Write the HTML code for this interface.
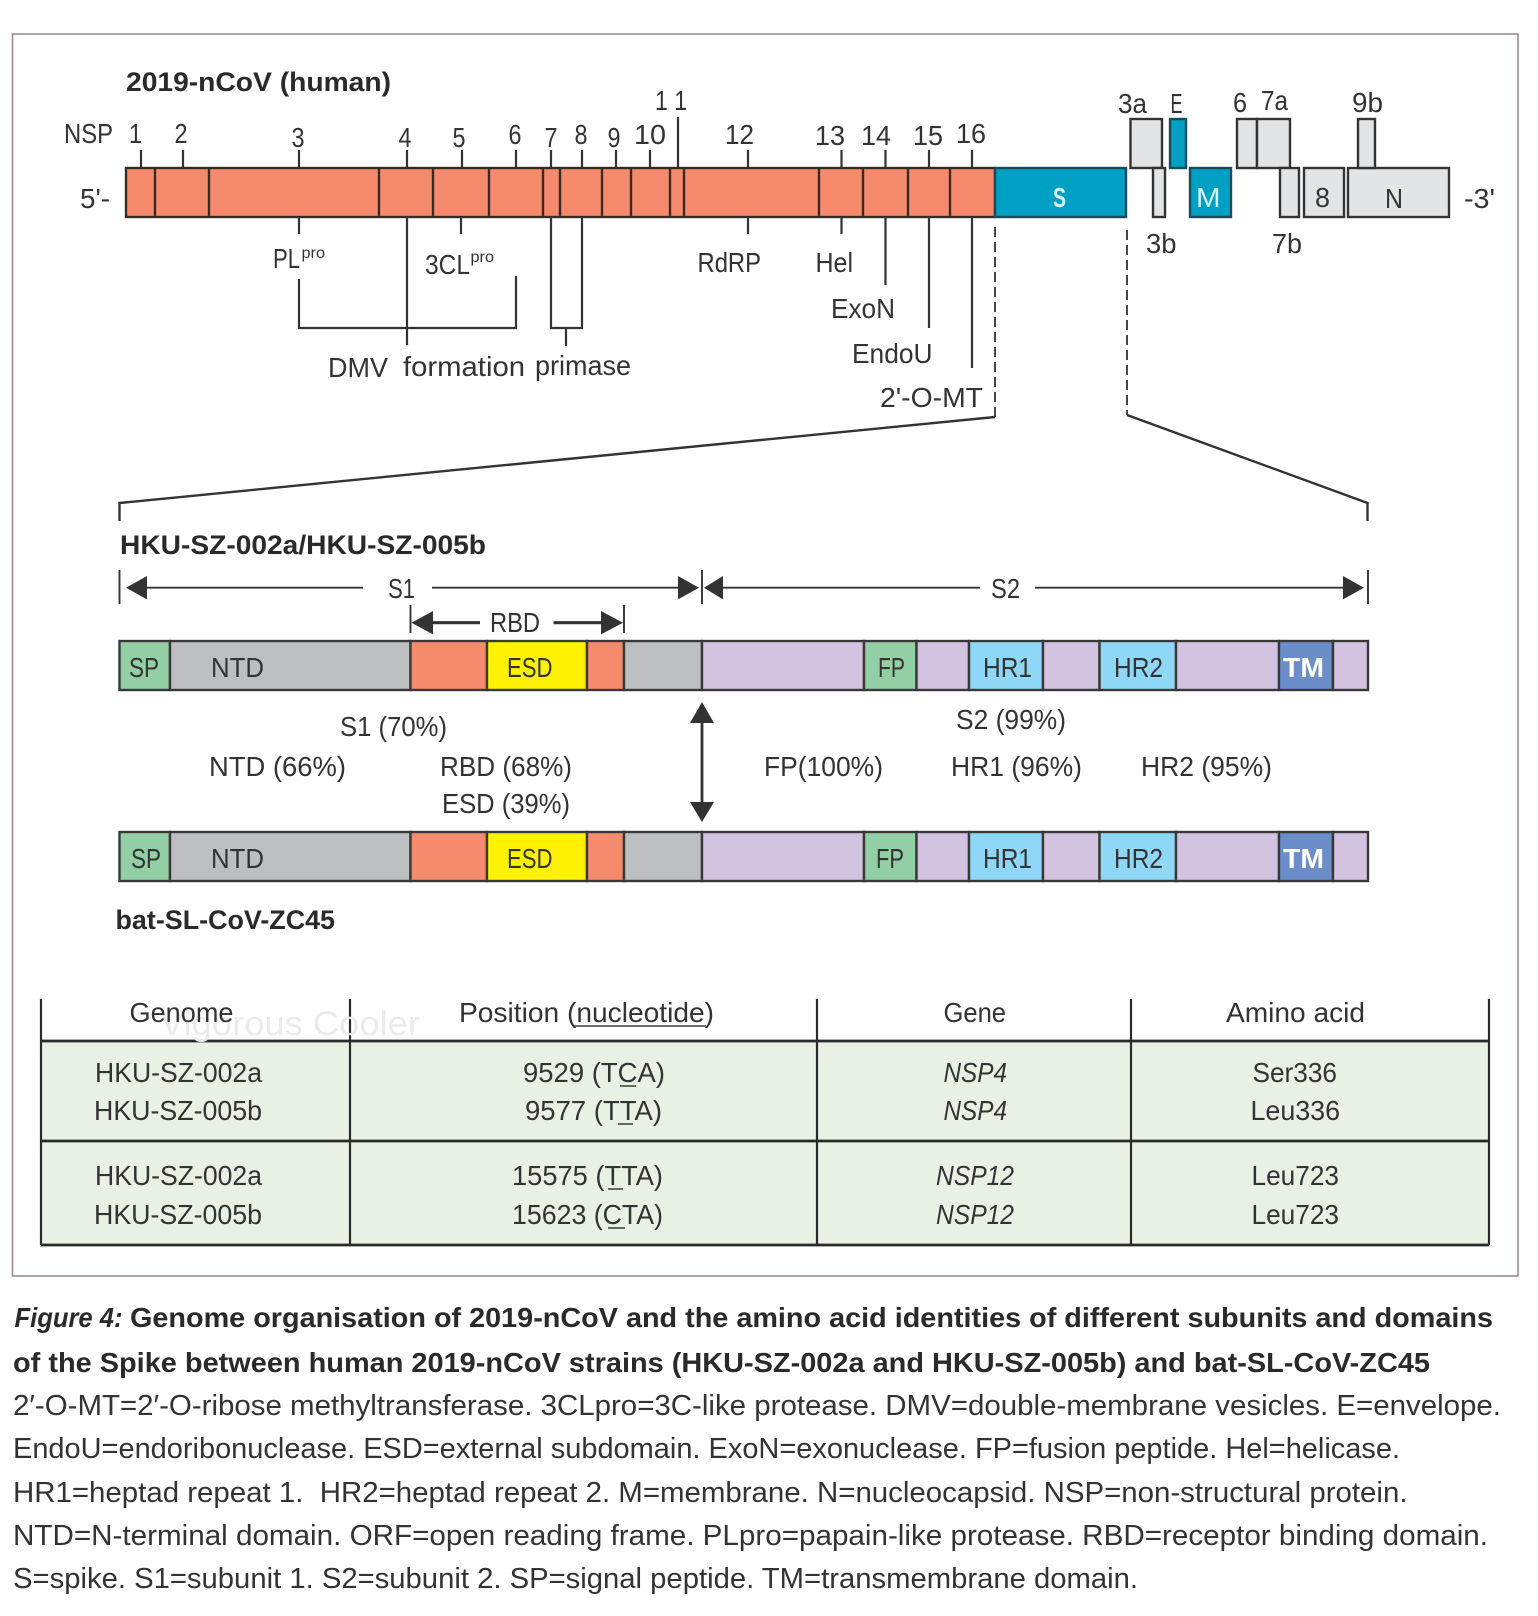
<!DOCTYPE html>
<html><head><meta charset="utf-8"><title>Figure 4</title>
<style>
html,body{margin:0;padding:0;background:#fff}
svg{display:block;filter:blur(0.35px)}
text{font-family:"Liberation Sans",sans-serif;fill:#333;font-size:28px}
.b{font-weight:bold;fill:#2a2a2a;font-size:27px}
.w{fill:#fff;font-weight:bold}
.i{font-style:italic}
.c{font-size:29px}
.c.b{font-size:28px}
.s{stroke:#3a2a26;stroke-width:2.4}
.g{fill:#e3e4e5;stroke:#333;stroke-width:2.4}
.t{fill:#00a0c4;stroke:#1c4a57;stroke-width:2.4}
</style></head><body>
<svg xmlns="http://www.w3.org/2000/svg" width="1538" height="1616" viewBox="0 0 1538 1616">
<rect width="1538" height="1616" fill="#fff"/>
<rect x="12.5" y="34" width="1505.5" height="1242" fill="none" stroke="#a08a92" stroke-width="1.6"/>

<!-- genome bar -->
<rect x="126" y="168" width="869" height="49" fill="#f58b6c" stroke="#3a2a26" stroke-width="2.4"/>
<g class="s">
<line x1="155" y1="168" x2="155" y2="217"/><line x1="209" y1="168" x2="209" y2="217"/><line x1="379" y1="168" x2="379" y2="217"/><line x1="433" y1="168" x2="433" y2="217"/><line x1="489" y1="168" x2="489" y2="217"/><line x1="543" y1="168" x2="543" y2="217"/><line x1="560" y1="168" x2="560" y2="217"/><line x1="602" y1="168" x2="602" y2="217"/><line x1="631" y1="168" x2="631" y2="217"/><line x1="670" y1="168" x2="670" y2="217"/><line x1="684" y1="168" x2="684" y2="217"/><line x1="819" y1="168" x2="819" y2="217"/><line x1="863" y1="168" x2="863" y2="217"/><line x1="908" y1="168" x2="908" y2="217"/><line x1="950" y1="168" x2="950" y2="217"/>
</g>
<rect x="995" y="168" width="131" height="49" class="t"/>
<rect x="1130.5" y="119" width="31.5" height="49" class="g"/>
<rect x="1170" y="119" width="16" height="49" class="t"/>
<rect x="1153" y="168" width="12" height="49" class="g"/>
<rect x="1190" y="168" width="41" height="49" class="t"/>
<rect x="1237" y="119" width="20" height="49" class="g"/>
<rect x="1257" y="119" width="33" height="49" class="g"/>
<rect x="1280" y="168" width="19" height="49" class="g"/>
<rect x="1304" y="168" width="40" height="49" class="g"/>
<rect x="1348" y="168" width="101" height="49" class="g"/>
<rect x="1358" y="119" width="17" height="49" class="g"/>

<!-- ticks -->
<g stroke="#333" stroke-width="2.2" fill="none">
<path d="M141 150V168M183 150V168M299 150V168M407 150V168M462 150V168M516 150V168M551 150V168M582 150V168M616 150V168M650 150V168M678 117V168M748 150V168M841.5 150V168M885.5 150V168M929 150V168M972 150V168"/>
<path d="M299 217V234M461 217V234M748 217V234M841.5 217V234M885.5 217V285M929 217V328M972 217V368M407 217V345"/>
<path d="M299 279V328H516V276"/>
<path d="M551 217V328H582V217M566 328V346"/>
<path d="M995 227V417M1127 230V415" stroke-dasharray="10 5" stroke-width="1.8"/>
<path d="M119.5 521V503L995 417M1127 415L1367.5 503V521" stroke-width="2.4"/>
</g>

<!-- spike bars -->
<g stroke="#383838" stroke-width="2.4">
<rect x="119.5" y="641" width="50.5" height="49" fill="#93cfa5"/>
<rect x="170" y="641" width="240.5" height="49" fill="#bcbec0"/>
<rect x="410.5" y="641" width="76.5" height="49" fill="#f58b6c"/>
<rect x="487" y="641" width="100" height="49" fill="#fff200"/>
<rect x="587" y="641" width="37" height="49" fill="#f58b6c"/>
<rect x="624" y="641" width="78" height="49" fill="#bcbec0"/>
<rect x="702" y="641" width="162" height="49" fill="#d2c3e0"/>
<rect x="864" y="641" width="52.5" height="49" fill="#93cfa5"/>
<rect x="916.5" y="641" width="52.5" height="49" fill="#d2c3e0"/>
<rect x="969" y="641" width="74" height="49" fill="#8fd7f6"/>
<rect x="1043" y="641" width="56.5" height="49" fill="#d2c3e0"/>
<rect x="1099.5" y="641" width="76.5" height="49" fill="#8fd7f6"/>
<rect x="1176" y="641" width="103" height="49" fill="#d2c3e0"/>
<rect x="1279" y="641" width="54" height="49" fill="#6b8ecb"/>
<rect x="1333" y="641" width="35" height="49" fill="#d2c3e0"/>

<rect x="119.5" y="832" width="50.5" height="49" fill="#93cfa5"/>
<rect x="170" y="832" width="240.5" height="49" fill="#bcbec0"/>
<rect x="410.5" y="832" width="76.5" height="49" fill="#f58b6c"/>
<rect x="487" y="832" width="100" height="49" fill="#fff200"/>
<rect x="587" y="832" width="37" height="49" fill="#f58b6c"/>
<rect x="624" y="832" width="78" height="49" fill="#bcbec0"/>
<rect x="702" y="832" width="162" height="49" fill="#d2c3e0"/>
<rect x="864" y="832" width="52.5" height="49" fill="#93cfa5"/>
<rect x="916.5" y="832" width="52.5" height="49" fill="#d2c3e0"/>
<rect x="969" y="832" width="74" height="49" fill="#8fd7f6"/>
<rect x="1043" y="832" width="56.5" height="49" fill="#d2c3e0"/>
<rect x="1099.5" y="832" width="76.5" height="49" fill="#8fd7f6"/>
<rect x="1176" y="832" width="103" height="49" fill="#d2c3e0"/>
<rect x="1279" y="832" width="54" height="49" fill="#6b8ecb"/>
<rect x="1333" y="832" width="35" height="49" fill="#d2c3e0"/>
</g>

<!-- dimension arrows -->
<g stroke="#333" stroke-width="1.9" fill="none">
<path d="M119.5 570V604M702 570V604M1368 570V604M410.5 605V633M624 605V633"/>
<path d="M147 587.7H363M432 587.7H678M723 587.7H980M1035 587.7H1343"/>
<path d="M430 622.7H480M553.5 622.7H602" stroke-width="3.2"/>
<path d="M702 720V805" stroke-width="2.8"/>
</g>
<g fill="#333">
<polygon points="126,587.7 147,576 147,599.4"/>
<polygon points="699,587.7 678,576 678,599.4"/>
<polygon points="704,587.7 723,576 723,599.4"/>
<polygon points="1364,587.7 1343,576 1343,599.4"/>
<polygon points="411.5,622.7 433,611 433,634.4"/>
<polygon points="623,622.7 601,611 601,634.4"/>
<polygon points="702,702 690,723 714,723"/>
<polygon points="702,822 690,802 714,802"/>
</g>

<!-- table -->
<rect x="41" y="1041" width="1447" height="204" fill="#e9f1e4"/>
<g stroke="#2a2a2a" fill="none">
<path d="M41 999V1245M350 999V1245M817 999V1245M1131 999V1245M1489 999V1245" stroke-width="2.2"/>
<path d="M41 1041H1489M41 1141H1489M41 1245H1489" stroke-width="2.8"/>
</g>
<text x="160" y="1035" textLength="260" lengthAdjust="spacingAndGlyphs" style="fill:#ebebeb;font-size:34px">Vigorous Cooler</text>

<!-- top labels -->
<text class="b" x="126" y="91" textLength="265" lengthAdjust="spacingAndGlyphs">2019-nCoV (human)</text>
<text x="64" y="143" textLength="49" lengthAdjust="spacingAndGlyphs">NSP</text>
<text x="129" y="143" textLength="13" lengthAdjust="spacingAndGlyphs">1</text>
<text x="174.5" y="143" textLength="13" lengthAdjust="spacingAndGlyphs">2</text>
<text x="291.5" y="147" textLength="13" lengthAdjust="spacingAndGlyphs">3</text>
<text x="398.5" y="147" textLength="13" lengthAdjust="spacingAndGlyphs">4</text>
<text x="452.5" y="147" textLength="13" lengthAdjust="spacingAndGlyphs">5</text>
<text x="508.5" y="144" textLength="13" lengthAdjust="spacingAndGlyphs">6</text>
<text x="544.5" y="147" textLength="13" lengthAdjust="spacingAndGlyphs">7</text>
<text x="574.5" y="144" textLength="13" lengthAdjust="spacingAndGlyphs">8</text>
<text x="607.5" y="147" textLength="13" lengthAdjust="spacingAndGlyphs">9</text>
<text x="634" y="144" textLength="32" lengthAdjust="spacingAndGlyphs">10</text>
<text x="655" y="110" textLength="32" lengthAdjust="spacingAndGlyphs">1 1</text>
<text x="725" y="144" textLength="29" lengthAdjust="spacingAndGlyphs">12</text>
<text x="815" y="145" textLength="30" lengthAdjust="spacingAndGlyphs">13</text>
<text x="861" y="145" textLength="30" lengthAdjust="spacingAndGlyphs">14</text>
<text x="913" y="145" textLength="30" lengthAdjust="spacingAndGlyphs">15</text>
<text x="956" y="143" textLength="30" lengthAdjust="spacingAndGlyphs">16</text>
<text x="80" y="208" textLength="30" lengthAdjust="spacingAndGlyphs">5'-</text>
<text x="273" y="268" textLength="27" lengthAdjust="spacingAndGlyphs">PL</text>
<text x="301.5" y="258" textLength="23.5" lengthAdjust="spacingAndGlyphs" style="font-size:16px">pro</text>
<text x="425" y="274" textLength="45" lengthAdjust="spacingAndGlyphs">3CL</text>
<text x="470.5" y="262" textLength="23.5" lengthAdjust="spacingAndGlyphs" style="font-size:16px">pro</text>
<text x="328" y="377" textLength="60" lengthAdjust="spacingAndGlyphs">DMV</text>
<text x="403" y="376" textLength="122" lengthAdjust="spacingAndGlyphs">formation</text>
<text x="535" y="375" textLength="96" lengthAdjust="spacingAndGlyphs">primase</text>
<text x="697.5" y="272" textLength="63.5" lengthAdjust="spacingAndGlyphs">RdRP</text>
<text x="815.5" y="272" textLength="37.5" lengthAdjust="spacingAndGlyphs">Hel</text>
<text x="831" y="318" textLength="64" lengthAdjust="spacingAndGlyphs">ExoN</text>
<text x="852" y="363" textLength="80.5" lengthAdjust="spacingAndGlyphs">EndoU</text>
<text x="880" y="407" textLength="103" lengthAdjust="spacingAndGlyphs">2'-O-MT</text>
<text class="w" x="1053" y="207" textLength="13" lengthAdjust="spacingAndGlyphs" style="fill:#d8f5fb">S</text>
<text x="1196" y="207" textLength="24.5" lengthAdjust="spacingAndGlyphs" style="fill:#d8f5fb">M</text>
<text x="1118" y="113" textLength="29" lengthAdjust="spacingAndGlyphs">3a</text>
<text x="1170.5" y="113" textLength="12" lengthAdjust="spacingAndGlyphs">E</text>
<text x="1233" y="112" textLength="14" lengthAdjust="spacingAndGlyphs">6</text>
<text x="1261" y="110" textLength="27" lengthAdjust="spacingAndGlyphs">7a</text>
<text x="1352" y="112" textLength="31" lengthAdjust="spacingAndGlyphs">9b</text>
<text x="1315" y="207" textLength="15" lengthAdjust="spacingAndGlyphs">8</text>
<text x="1385" y="208" textLength="18" lengthAdjust="spacingAndGlyphs">N</text>
<text x="1464" y="208" textLength="31" lengthAdjust="spacingAndGlyphs">-3'</text>
<text x="1146" y="253" textLength="30.5" lengthAdjust="spacingAndGlyphs">3b</text>
<text x="1272" y="253" textLength="30" lengthAdjust="spacingAndGlyphs">7b</text>

<!-- spike labels -->
<text class="b" x="120" y="554" textLength="366" lengthAdjust="spacingAndGlyphs">HKU-SZ-002a/HKU-SZ-005b</text>
<text x="388" y="598" textLength="27" lengthAdjust="spacingAndGlyphs">S1</text>
<text x="991" y="598" textLength="29" lengthAdjust="spacingAndGlyphs">S2</text>
<text x="490" y="632" textLength="50" lengthAdjust="spacingAndGlyphs">RBD</text>
<text x="129" y="677" textLength="30" lengthAdjust="spacingAndGlyphs">SP</text>
<text x="211" y="677" textLength="53" lengthAdjust="spacingAndGlyphs">NTD</text>
<text x="507" y="677" textLength="45.5" lengthAdjust="spacingAndGlyphs">ESD</text>
<text x="878" y="677" textLength="27" lengthAdjust="spacingAndGlyphs">FP</text>
<text x="983" y="677" textLength="49" lengthAdjust="spacingAndGlyphs">HR1</text>
<text x="1114" y="677" textLength="49" lengthAdjust="spacingAndGlyphs">HR2</text>
<text class="w" x="1283" y="677" textLength="41" lengthAdjust="spacingAndGlyphs">TM</text>
<text x="340" y="736" textLength="107" lengthAdjust="spacingAndGlyphs">S1 (70%)</text>
<text x="956" y="729" textLength="110" lengthAdjust="spacingAndGlyphs">S2 (99%)</text>
<text x="209" y="776" textLength="137" lengthAdjust="spacingAndGlyphs">NTD (66%)</text>
<text x="440" y="776" textLength="132" lengthAdjust="spacingAndGlyphs">RBD (68%)</text>
<text x="764" y="776" textLength="119" lengthAdjust="spacingAndGlyphs">FP(100%)</text>
<text x="951" y="776" textLength="131" lengthAdjust="spacingAndGlyphs">HR1 (96%)</text>
<text x="1141" y="776" textLength="131" lengthAdjust="spacingAndGlyphs">HR2 (95%)</text>
<text x="442" y="813" textLength="128" lengthAdjust="spacingAndGlyphs">ESD (39%)</text>
<text x="131" y="868" textLength="30" lengthAdjust="spacingAndGlyphs">SP</text>
<text x="211" y="868" textLength="53" lengthAdjust="spacingAndGlyphs">NTD</text>
<text x="507" y="868" textLength="45.5" lengthAdjust="spacingAndGlyphs">ESD</text>
<text x="876" y="868" textLength="28" lengthAdjust="spacingAndGlyphs">FP</text>
<text x="983" y="868" textLength="49" lengthAdjust="spacingAndGlyphs">HR1</text>
<text x="1114" y="868" textLength="49" lengthAdjust="spacingAndGlyphs">HR2</text>
<text class="w" x="1283" y="868" textLength="41" lengthAdjust="spacingAndGlyphs">TM</text>
<text class="b" x="115.5" y="929" textLength="219.5" lengthAdjust="spacingAndGlyphs">bat-SL-CoV-ZC45</text>

<!-- table text -->
<text x="129.5" y="1022" textLength="104" lengthAdjust="spacingAndGlyphs">Genome</text>
<text x="459" y="1022" textLength="255" lengthAdjust="spacingAndGlyphs">Position (nucleotide)</text>
<line x1="574" y1="1026" x2="706" y2="1026" stroke="#3a3a3a" stroke-width="1.5"/>
<text x="943.5" y="1022" textLength="62.5" lengthAdjust="spacingAndGlyphs">Gene</text>
<text x="1226" y="1022" textLength="139" lengthAdjust="spacingAndGlyphs">Amino acid</text>

<text x="95" y="1082" textLength="167" lengthAdjust="spacingAndGlyphs">HKU-SZ-002a</text>
<text x="94" y="1120" textLength="168" lengthAdjust="spacingAndGlyphs">HKU-SZ-005b</text>
<text x="523" y="1082" textLength="142" lengthAdjust="spacingAndGlyphs">9529 (TCA)</text>
<text x="525" y="1120" textLength="137" lengthAdjust="spacingAndGlyphs">9577 (TTA)</text>
<text class="i" x="943.5" y="1082" textLength="63.5" lengthAdjust="spacingAndGlyphs">NSP4</text>
<text class="i" x="943.5" y="1120" textLength="63.5" lengthAdjust="spacingAndGlyphs">NSP4</text>
<text x="1252.5" y="1082" textLength="84.5" lengthAdjust="spacingAndGlyphs">Ser336</text>
<text x="1250.5" y="1120" textLength="89.5" lengthAdjust="spacingAndGlyphs">Leu336</text>
<text x="95" y="1185" textLength="167" lengthAdjust="spacingAndGlyphs">HKU-SZ-002a</text>
<text x="94" y="1224" textLength="168" lengthAdjust="spacingAndGlyphs">HKU-SZ-005b</text>
<text x="512" y="1185" textLength="151" lengthAdjust="spacingAndGlyphs">15575 (TTA)</text>
<text x="512" y="1224" textLength="151" lengthAdjust="spacingAndGlyphs">15623 (CTA)</text>
<text class="i" x="936" y="1185" textLength="78" lengthAdjust="spacingAndGlyphs">NSP12</text>
<text class="i" x="936" y="1224" textLength="78" lengthAdjust="spacingAndGlyphs">NSP12</text>
<text x="1251.5" y="1185" textLength="87.5" lengthAdjust="spacingAndGlyphs">Leu723</text>
<text x="1251.5" y="1224" textLength="87.5" lengthAdjust="spacingAndGlyphs">Leu723</text>
<g stroke="#3a3a3a" stroke-width="1.5">
<line x1="620" y1="1086" x2="636" y2="1086"/><line x1="618" y1="1124" x2="633" y2="1124"/><line x1="608" y1="1189" x2="623" y2="1189"/><line x1="608" y1="1228" x2="625" y2="1228"/>
</g>

<!-- caption -->
<text class="c b i" x="14.5" y="1327" textLength="108" lengthAdjust="spacingAndGlyphs">Figure 4:</text>
<text class="c b" x="130" y="1327" textLength="1363" lengthAdjust="spacingAndGlyphs">Genome organisation of 2019-nCoV and the amino acid identities of different subunits and domains</text>
<text class="c b" x="13" y="1372" textLength="1417" lengthAdjust="spacingAndGlyphs">of the Spike between human 2019-nCoV strains (HKU-SZ-002a and HKU-SZ-005b) and bat-SL-CoV-ZC45</text>
<text class="c" x="13" y="1415" textLength="1488" lengthAdjust="spacingAndGlyphs">2′-O-MT=2′-O-ribose methyltransferase. 3CLpro=3C-like protease. DMV=double-membrane vesicles. E=envelope.</text>
<text class="c" x="13" y="1458" textLength="1387" lengthAdjust="spacingAndGlyphs">EndoU=endoribonuclease. ESD=external subdomain. ExoN=exonuclease. FP=fusion peptide. Hel=helicase.</text>
<text class="c" x="13" y="1502" textLength="1394.5" lengthAdjust="spacingAndGlyphs" xml:space="preserve">HR1=heptad repeat 1.  HR2=heptad repeat 2. M=membrane. N=nucleocapsid. NSP=non-structural protein.</text>
<text class="c" x="13" y="1545" textLength="1475" lengthAdjust="spacingAndGlyphs">NTD=N-terminal domain. ORF=open reading frame. PLpro=papain-like protease. RBD=receptor binding domain.</text>
<text class="c" x="13" y="1588" textLength="1125" lengthAdjust="spacingAndGlyphs">S=spike. S1=subunit 1. S2=subunit 2. SP=signal peptide. TM=transmembrane domain.</text>
</svg>
</body></html>
